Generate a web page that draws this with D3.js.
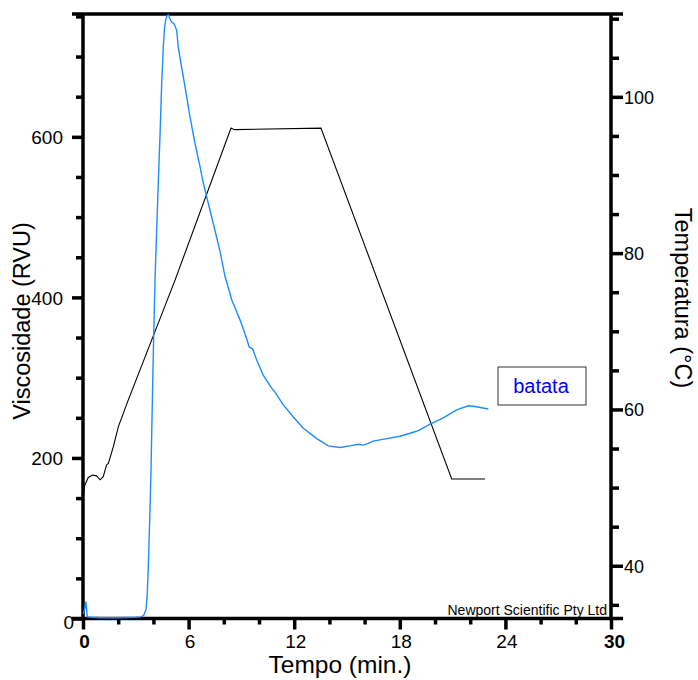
<!DOCTYPE html>
<html lang="pt">
<head>
<meta charset="UTF-8">
<title>Viscosidade RVA - batata</title>
<script src="https://d3js.org/d3.v7.min.js"></script>
<style>
  html, body { margin: 0; padding: 0; background: #fff; }
  svg { display: block; font-family: "Liberation Sans", Arial, sans-serif; }
  .axis path { display: none; }
  .axis line { stroke: #000; stroke-width: 3.5; }
  .axis text { fill: #000; }
</style>
</head>
<body>
<svg id="chart" width="698" height="680"></svg>
<script>
// viscosity curve (RVU) vs time (min)
const viscTime = [0, 0.08, 0.17, 0.24, 0.5, 1, 2, 3, 3.3, 3.45, 3.58, 3.65, 3.72, 3.8, 3.86, 3.93, 4.0, 4.09, 4.18, 4.28, 4.38, 4.47, 4.56, 4.63, 4.7, 4.78, 4.85,
  4.94, 5.04, 5.17, 5.32, 5.41, 5.6, 5.8, 6.08, 6.36, 6.65, 6.8, 7.03, 7.4, 7.78, 8.07, 8.45, 8.92, 9.2, 9.45, 9.64, 9.87, 10.24, 10.72, 10.91, 11.35, 11.95,
  12.52, 13.28, 13.94, 14.6, 15.17, 15.64, 15.93, 16.31, 16.49, 17.26, 18.01, 18.77, 19.05, 19.72, 20.47, 21.23, 21.89, 22.27, 23.03];
const viscosity = [6, 10, 21, 2, 1.5, 1, 1, 1.5, 2, 4, 11, 30, 70, 130, 180, 260, 335, 420, 480, 545, 604, 665, 712, 735, 746, 751, 752,
  747, 743, 741, 733, 712, 687, 662, 625, 592, 563, 546, 525, 492, 458, 426, 397, 372, 355, 338, 336, 322, 303, 287, 282, 267, 251,
  237, 224, 215, 213, 215, 217, 216, 219, 221, 224, 227, 232, 234, 242, 250, 260, 265, 264, 261];

// temperature profile (°C) vs time (min)
const tempTime = [0, 0.1, 0.3, 0.55, 0.77, 0.97, 1.15, 1.34, 1.44, 1.72, 2.01, 2.57, 5.23, 8.41, 8.6, 13.52, 20.95, 22.84];
const temperature = [48.8, 50.3, 51.3, 51.6, 51.5, 51.0, 51.4, 52.9, 53.1, 55.2, 57.8, 61.2, 76.55, 96.0, 95.8, 96.0, 51.1, 51.1];

const xTicks = d3.range(0, 31, 2);
const xLabels = [0, 6, 12, 18, 24, 30];
const viscTicks = d3.range(0, 751, 50);
const viscLabels = [0, 200, 400, 600];
const tempTicks = d3.range(35, 111, 5);
const tempLabels = [40, 60, 80, 100];

const svg = d3.select("#chart");
const mLeft = 83, mRight = 611, mTop = 14, mBottom = 618.5;

const x = d3.scaleLinear().domain([0, 30]).range([mLeft, mRight]);
const yV = d3.scaleLinear().domain([0, 753]).range([mBottom, mTop]);
const yT = d3.scaleLinear().domain([33.25, 110.6]).range([mBottom, mTop]);

// frame lines
svg.append("line").attr("x1", 72).attr("x2", 623).attr("y1", mTop).attr("y2", mTop)
  .attr("stroke", "#000").attr("stroke-width", 3.5);
svg.append("line").attr("x1", 72).attr("x2", 623).attr("y1", mBottom).attr("y2", mBottom)
  .attr("stroke", "#000").attr("stroke-width", 3.5);
svg.append("line").attr("x1", mLeft).attr("x2", mLeft).attr("y1", mTop).attr("y2", mBottom)
  .attr("stroke", "#000").attr("stroke-width", 3.5);
svg.append("line").attr("x1", mRight).attr("x2", mRight).attr("y1", mTop).attr("y2", mBottom)
  .attr("stroke", "#000").attr("stroke-width", 3.5);

// bottom axis
const gx = svg.append("g").attr("class", "axis").attr("transform", `translate(0,${mBottom})`)
  .call(d3.axisBottom(x).tickValues(xTicks).tickFormat("").tickSizeOuter(0)
    .tickSize(6));
gx.selectAll(".tick line").filter(d => xLabels.includes(d)).attr("y2", 11);
gx.selectAll(".tick").filter(d => xLabels.includes(d)).append("text")
  .attr("y", 29.5)
  .attr("text-anchor", "middle")
  .style("font-size", "19px")
  .style("font-weight", d => (d === 0 || d === 30) ? "bold" : "normal")
  .attr("dx", d => d === 30 ? 3 : 1)
  .text(d => d);

// left axis
const gl = svg.append("g").attr("class", "axis").attr("transform", `translate(${mLeft},0)`)
  .call(d3.axisLeft(yV).tickValues(viscTicks).tickFormat("").tickSizeOuter(0).tickSize(7));
gl.selectAll(".tick line").filter(d => viscLabels.includes(d)).attr("x2", -11);
gl.selectAll(".tick").filter(d => viscLabels.includes(d)).append("text")
  .attr("x", d => d === 0 ? -9 : -20)
  .attr("dy", d => d === 0 ? "0.5em" : "0.35em")
  .attr("text-anchor", "end")
  .style("font-size", "19px")
  .text(d => d);

// right axis
const gr = svg.append("g").attr("class", "axis").attr("transform", `translate(${mRight},0)`)
  .call(d3.axisRight(yT).tickValues(tempTicks).tickFormat("").tickSizeOuter(0).tickSize(8));
gr.selectAll(".tick line").filter(d => tempLabels.includes(d)).attr("x2", 12);
gr.selectAll(".tick").filter(d => tempLabels.includes(d)).append("text")
  .attr("x", 13)
  .attr("dy", "0.35em")
  .attr("text-anchor", "start")
  .style("font-size", "18px")
  .text(d => d);

// curves
const viscLine = d3.line().x(d => x(d[0])).y(d => yV(d[1]));
const tempLine = d3.line().x(d => x(d[0])).y(d => yT(d[1]));

svg.append("path")
  .datum(tempTime.map((t, i) => [t, temperature[i]]))
  .attr("d", tempLine)
  .attr("fill", "none").attr("stroke", "#000").attr("stroke-width", 1.1);

svg.append("path")
  .datum(viscTime.map((t, i) => [t, viscosity[i]]))
  .attr("d", viscLine)
  .attr("fill", "none").attr("stroke", "#1e8cff").attr("stroke-width", 1.4);

// titles
svg.append("text")
  .attr("transform", `translate(30,321) rotate(-90)`)
  .attr("text-anchor", "middle")
  .style("font-size", "23.5px")
  .text("Viscosidade (RVU)");

svg.append("text")
  .attr("transform", `translate(675,298) rotate(90)`)
  .attr("text-anchor", "middle")
  .style("font-size", "23.5px")
  .text("Temperatura (°C)");

svg.append("text")
  .attr("x", 340).attr("y", 673)
  .attr("text-anchor", "middle")
  .style("font-size", "24.5px")
  .text("Tempo (min.)");

svg.append("text")
  .attr("x", 607).attr("y", 615)
  .attr("text-anchor", "end")
  .style("font-size", "14px")
  .text("Newport Scientific Pty Ltd");

// legend
svg.append("rect")
  .attr("x", 498).attr("y", 367).attr("width", 88).attr("height", 38)
  .attr("fill", "#fff").attr("stroke", "#333").attr("stroke-width", 1);
svg.append("text")
  .attr("x", 541).attr("y", 393)
  .attr("text-anchor", "middle")
  .style("font-size", "20px")
  .attr("fill", "#0000ff")
  .text("batata");
</script>
</body>
</html>
